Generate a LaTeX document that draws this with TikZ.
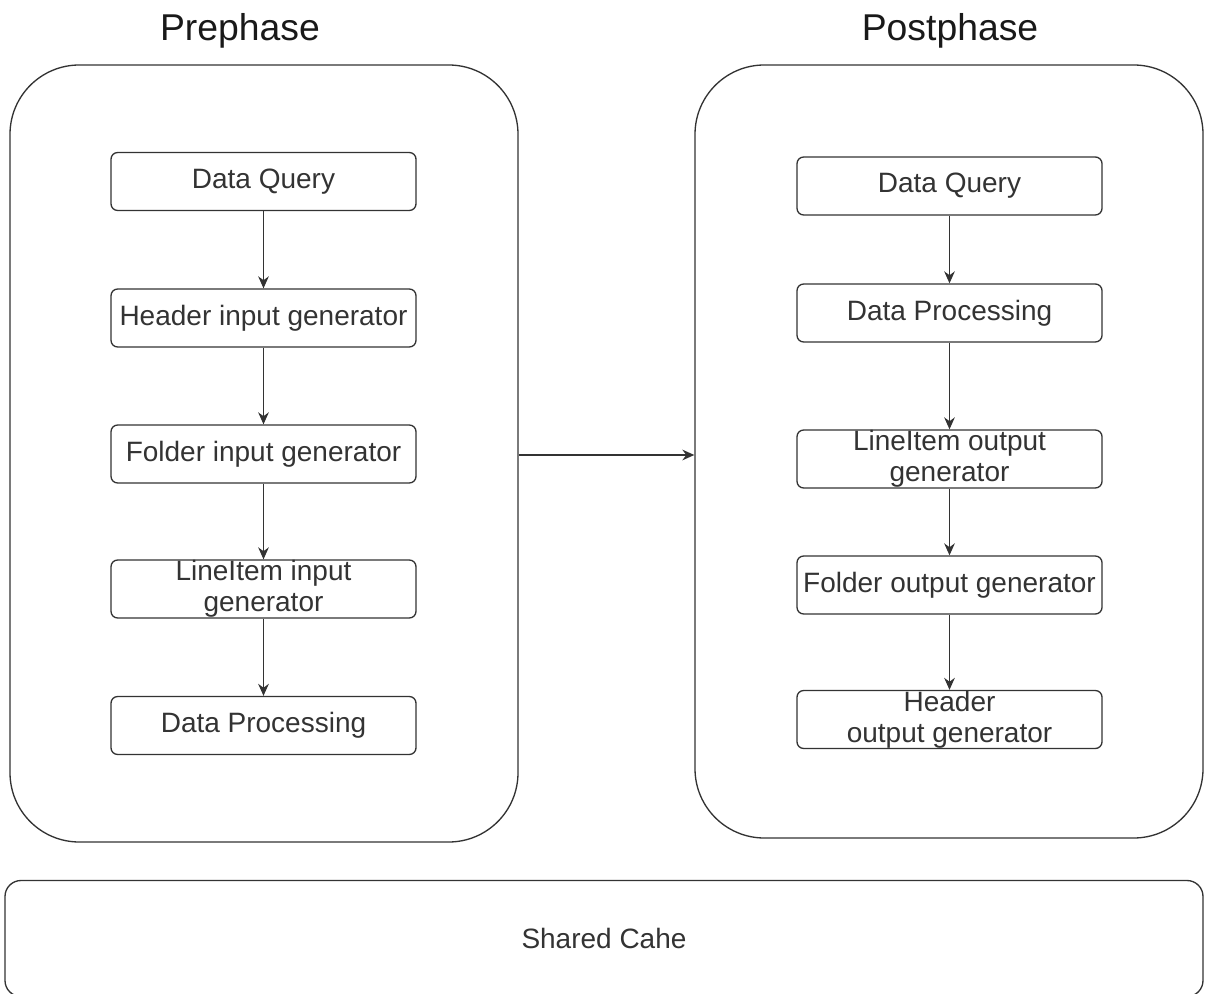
\documentclass[tikz,border=0pt]{standalone}
\usepackage{fontspec}
\setmainfont{Liberation Sans}
\usetikzlibrary{arrows.meta,positioning,calc}
\definecolor{ink}{HTML}{333333}
\tikzset{
  phase/.style={draw=ink, line width=1pt, rounded corners=52pt, inner sep=0pt,
    minimum width=381pt},
  stepbox/.style={draw=ink, line width=1pt, rounded corners=5pt, inner sep=0pt,
    minimum width=228.75pt, minimum height=43.5pt, align=center,
    font=\fontsize{21pt}{23pt}\selectfont, text=ink},
  cachebox/.style={draw=ink, line width=1pt, rounded corners=12pt, inner sep=0pt,
    minimum width=898.5pt, minimum height=87pt,
    font=\fontsize{21pt}{23pt}\selectfont, text=ink},
  title/.style={font=\fontsize{28pt}{30pt}\selectfont, text=black!90, inner sep=0pt},
  flow/.style={draw=ink, line width=1pt, -{Stealth[length=9pt,width=8pt]}}
}
\begin{document}
\begin{tikzpicture}[x=0.75pt,y=-0.75pt]
\useasboundingbox (0,0) rectangle (1209,994);

% phase titles
\node[title] (tpre)  at (240,31) {Prephase};
\node[title] (tpost) at (950,31) {Postphase};

% phase containers
\node[phase, minimum height=582.75pt] (pre)  at (264,453.5) {};
\node[phase, minimum height=579.75pt] (post) at (949,451.5) {};

% prephase steps
\node[stepbox] (p1) at (263.5,181.5) {Data Query};
\node[stepbox] (p2) at (263.5,318)   {Header input generator};
\node[stepbox] (p3) at (263.5,454)   {Folder input generator};
\node[stepbox] (p4) at (263.5,589)   {LineItem input\\generator};
\node[stepbox] (p5) at (263.5,725.5) {Data Processing};

% postphase steps
\node[stepbox] (q1) at (949.5,186)   {Data Query};
\node[stepbox] (q2) at (949.5,313)   {Data Processing};
\node[stepbox] (q3) at (949.5,459)   {LineItem output\\generator};
\node[stepbox] (q4) at (949.5,585)   {Folder output generator};
\node[stepbox] (q5) at (949.5,719.5) {Header\\output generator};

% shared cache
\node[cachebox] (cache) at (604,938.5) {Shared Cahe};

% connectors
\draw[flow] (p1) -- (p2);
\draw[flow] (p2) -- (p3);
\draw[flow] (p3) -- (p4);
\draw[flow] (p4) -- (p5);
\draw[flow] (q1) -- (q2);
\draw[flow] (q2) -- (q3);
\draw[flow] (q3) -- (q4);
\draw[flow] (q4) -- (q5);
\draw[flow] ($(pre.east)+(0,1.5)$) -- ($(pre.east -| post.west)+(0,1.5)$);
\end{tikzpicture}
\end{document}
